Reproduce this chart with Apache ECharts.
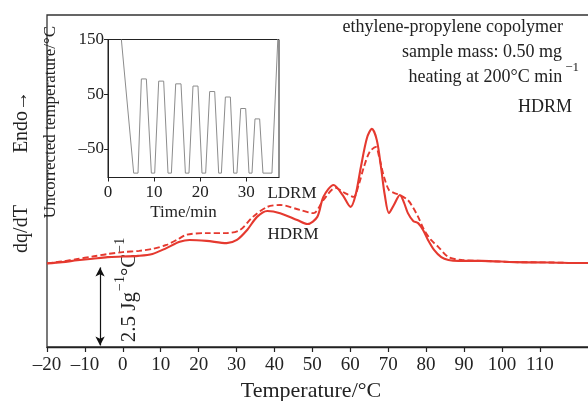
<!DOCTYPE html>
<html>
<head>
<meta charset="utf-8">
<script src="https://cdn.jsdelivr.net/npm/echarts@6/dist/echarts.min.js"></script>
<style>
  html, body { margin: 0; padding: 0; background: #fff; }
  #chart { width: 588px; height: 401px; }
</style>
</head>
<body>
<div id="chart"></div>
<script>
// DSC heating traces (dq/dT, J g^-1 °C^-1, arbitrary offset) vs temperature
const hdrmTemp = [-20, -16, -12, -8, -4, 0, 4, 7.8, 11.5, 15.0, 17.6, 22.1, 27.4, 30.1, 32.8, 35.4, 38.1, 41.5, 46.0, 48.7, 51.3, 52.9, 55.6, 58.0, 60.1, 61.4, 62.8, 64.4, 65.7, 67.0, 68.1, 69.1, 70.2, 71.5, 73.1, 74.2, 75.2, 76.6, 77.9, 79.2, 80.5, 82.1, 84.0, 85.9, 88.5, 94.6, 103.4, 112.4, 121.2, 123.5];
const hdrmValue = [2.68, 2.72, 2.78, 2.83, 2.88, 2.90, 2.92, 2.98, 3.17, 3.37, 3.43, 3.40, 3.33, 3.43, 3.75, 4.17, 4.36, 4.29, 4.07, 3.94, 4.17, 4.81, 5.19, 4.87, 4.49, 4.87, 5.77, 6.70, 6.99, 6.63, 5.77, 4.87, 4.29, 4.55, 4.87, 4.62, 4.29, 4.04, 3.97, 3.75, 3.43, 3.11, 2.88, 2.79, 2.76, 2.76, 2.72, 2.71, 2.69, 2.69];

const ldrmTemp = [-20, -16, -12, -8, -4, 0, 4.3, 8, 11.5, 14.5, 16.8, 22.1, 27.4, 30.9, 34.3, 38.1, 41.5, 46.8, 50.3, 52.9, 56.1, 58.5, 60.9, 62.2, 63.6, 65.1, 66.7, 67.8, 68.9, 70.2, 71.5, 73.1, 75.2, 76.6, 77.9, 79.5, 81.3, 83.2, 85.9, 89.3, 94.6, 103.4, 112.4, 121.2, 123.5];
const ldrmValue = [2.68, 2.74, 2.82, 2.90, 2.98, 3.04, 3.08, 3.15, 3.27, 3.45, 3.60, 3.65, 3.65, 3.75, 4.17, 4.49, 4.55, 4.39, 4.29, 4.71, 5.10, 4.94, 4.81, 5.19, 5.77, 6.25, 6.41, 5.99, 5.45, 5.03, 4.94, 4.87, 4.71, 4.46, 4.17, 3.75, 3.43, 3.21, 2.88, 2.79, 2.76, 2.72, 2.71, 2.69, 2.69];

// temperature programme of the inset (time in min, uncorrected temperature in °C)
const progTime = [2.9, 5.57, 6.51, 7.24, 8.32, 9.41, 10.13, 11.0, 12.08, 13.02, 13.75, 14.69, 15.84, 16.79, 17.57, 18.44, 19.52, 20.39, 21.19, 22.06, 23.15, 24.01, 24.6, 25.47, 26.55, 27.27, 27.98, 28.79, 29.87, 30.59, 31.24, 31.89, 32.9, 33.62, 35.57, 37.1];
const progTemp = [150, -94, -94, 78, 78, -94, -94, 74, 74, -94, -94, 69, 69, -94, -94, 65, 65, -94, -94, 55, 55, -94, -94, 45, 45, -94, -94, 24, 24, -94, -94, 5, 5, -94, -94, 200];

// axis ticks
const tempTicks = [-20, -10, 0, 10, 20, 30, 40, 50, 60, 70, 80, 90, 100, 110];
const timeTicks = [0, 10, 20, 30];
const progTicks = [-50, 50, 150];

// scale bar: 2.5 J g^-1 °C^-1 drawn at T = -6 °C
const scaleBarT = -6;
const scaleBarFrom = 0.05;
const scaleBarSize = 2.5;

const serif = '"Liberation Serif", "DejaVu Serif", serif';
const ink = '#222';
const red = '#e5392f';
const dash = v => String(v).replace('-', '\u2013');

const pair = (xs, ys) => xs.map((x, i) => [x, ys[i]]);

const chart = echarts.init(document.getElementById('chart'), null, { renderer: 'canvas' });

chart.setOption({
  animation: false,
  backgroundColor: '#fff',
  grid: [
    { left: 47, top: 15, right: -3, bottom: 54, outerBoundsMode: 'none', containLabel: false,
      show: true, borderColor: '#333', borderWidth: 1.3, backgroundColor: 'transparent' },
    { left: 108, top: 39.5, width: 171, height: 138, outerBoundsMode: 'none', containLabel: false,
      show: true, borderColor: ink, borderWidth: 1, backgroundColor: '#fff', z: 5 }
  ],
  xAxis: [
    {
      gridIndex: 0, type: 'value', min: -20, max: 123.5,
      name: 'Temperature/°C', nameLocation: 'middle', nameGap: 32,
      nameTextStyle: { fontFamily: serif, fontSize: 22, color: ink, padding: [0, 16, 0, 0] },
      axisLine: { show: true, onZero: false, lineStyle: { color: ink, width: 1.3 } },
      axisTick: { show: true, inside: false, length: 5, customValues: tempTicks, lineStyle: { color: ink, width: 1.2 } },
      axisLabel: { customValues: tempTicks, margin: 9, fontFamily: serif, fontSize: 19, color: ink, formatter: dash },
      splitLine: { show: false }
    },
    {
      gridIndex: 1, type: 'value', min: 0, max: 37.1,
      name: 'Time/min', nameLocation: 'middle', nameGap: 27,
      nameTextStyle: { fontFamily: serif, fontSize: 17, color: ink, padding: [0, 20, 0, 0] },
      axisLine: { show: true, onZero: false, lineStyle: { color: ink, width: 1 } },
      axisTick: { show: true, inside: false, length: 4, customValues: timeTicks, lineStyle: { color: ink } },
      axisLabel: { customValues: timeTicks, margin: 7, fontFamily: serif, fontSize: 17, color: ink },
      splitLine: { show: false }, z: 6
    }
  ],
  yAxis: [
    { gridIndex: 0, type: 'value', min: 0, max: 10.64, show: false },
    {
      gridIndex: 1, type: 'value', min: -102, max: 150,
      axisLine: { show: true, onZero: false, lineStyle: { color: ink, width: 1 } },
      axisTick: { show: true, inside: false, length: 4, customValues: progTicks, lineStyle: { color: ink } },
      axisLabel: { customValues: progTicks, margin: 4, fontFamily: serif, fontSize: 17, color: ink, formatter: dash },
      splitLine: { show: false }, z: 6
    }
  ],
  series: [
    {
      name: 'LDRM', type: 'line', xAxisIndex: 0, yAxisIndex: 0,
      data: pair(ldrmTemp, ldrmValue), showSymbol: false, smooth: 0.3,
      lineStyle: { color: red, width: 1.9, type: [6, 3] }, z: 3
    },
    {
      name: 'HDRM', type: 'line', xAxisIndex: 0, yAxisIndex: 0,
      data: pair(hdrmTemp, hdrmValue), showSymbol: false, smooth: 0.3,
      lineStyle: { color: red, width: 2.1 }, z: 3
    },
    {
      name: 'scale', type: 'line', xAxisIndex: 0, yAxisIndex: 0, data: [], silent: true,
      markLine: {
        silent: true, symbol: ['arrow', 'arrow'], symbolSize: [7, 9],
        label: { show: false },
        lineStyle: { color: '#111', width: 1.2, type: 'solid' },
        data: [[
          { coord: [scaleBarT, scaleBarFrom] },
          { coord: [scaleBarT, scaleBarFrom + scaleBarSize] }
        ]]
      }
    },
    {
      name: 'programme', type: 'line', xAxisIndex: 1, yAxisIndex: 1,
      data: pair(progTime, progTemp), showSymbol: false, clip: true,
      lineStyle: { color: '#8c8c8c', width: 1 }, z: 7
    }
  ],
  graphic: [
    { type: 'text', x: 22, y: 122, rotation: Math.PI / 2, style: { text: 'Endo\u2192', fontFamily: serif, fontSize: 20, fill: ink, align: 'center', verticalAlign: 'middle' } },
    { type: 'text', x: 22, y: 229, rotation: Math.PI / 2, style: { text: 'dq/dT', fontFamily: serif, fontSize: 20, fill: ink, align: 'center', verticalAlign: 'middle' } },
    { type: 'text', x: 51, y: 122, rotation: Math.PI / 2, z: 10, style: { text: 'Uncorrected temperature/°C', fontFamily: serif, fontSize: 17, fill: ink, align: 'center', verticalAlign: 'middle' } },
    { type: 'text', x: 563, y: 27, style: { text: 'ethylene-propylene copolymer', fontFamily: serif, fontSize: 18, fill: ink, align: 'right', verticalAlign: 'middle' } },
    { type: 'text', x: 562, y: 52, style: { text: 'sample mass: 0.50 mg', fontFamily: serif, fontSize: 18, fill: ink, align: 'right', verticalAlign: 'middle' } },
    { type: 'text', x: 579, y: 72, style: {
        text: '{b|heating at 200°C min}{s|\u22121}', align: 'right', verticalAlign: 'middle',
        rich: {
          b: { fontFamily: serif, fontSize: 18, fill: ink, padding: [11, 0, 0, 0] },
          s: { fontFamily: serif, fontSize: 13, fill: ink, padding: [0, 0, 9, 3] }
        } } },
    { type: 'text', x: 572, y: 107, style: { text: 'HDRM', fontFamily: serif, fontSize: 18, fill: ink, align: 'right', verticalAlign: 'middle' } },
    { type: 'text', x: 292, y: 194, style: { text: 'LDRM', fontFamily: serif, fontSize: 17, fill: ink, align: 'center', verticalAlign: 'middle' } },
    { type: 'text', x: 293, y: 235, style: { text: 'HDRM', fontFamily: serif, fontSize: 17, fill: ink, align: 'center', verticalAlign: 'middle' } },
    { type: 'text', x: 125, y: 290, rotation: Math.PI / 2, style: {
        text: '{b|2.5 Jg}{s|\u22121}{b|°C}{s|\u22121}', align: 'center', verticalAlign: 'middle',
        rich: {
          b: { fontFamily: serif, fontSize: 21, fill: ink, padding: [9, 0, 0, 0] },
          s: { fontFamily: serif, fontSize: 14, fill: ink, padding: [0, 0, 9, 1] }
        } } }
  ]
});
</script>
</body>
</html>
